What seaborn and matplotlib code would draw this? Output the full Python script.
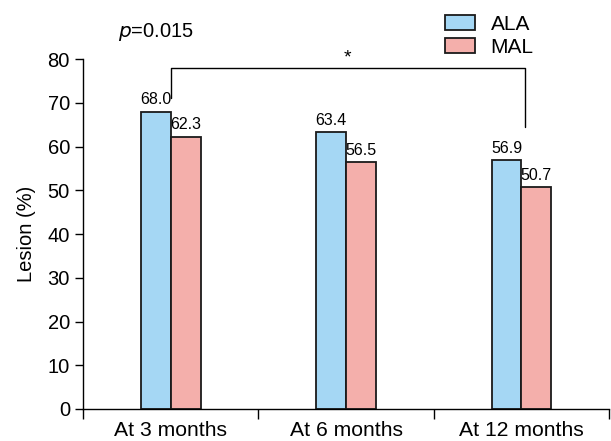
import matplotlib
matplotlib.use("Agg")
import matplotlib.pyplot as plt
import seaborn as sns
import pandas as pd

# Chart data
timepoints = ["At 3 months", "At 6 months", "At 12 months"]
ala_values = [68.0, 63.4, 56.9]
mal_values = [62.3, 56.5, 50.7]
groups = ["ALA", "MAL"]
p_text = "=0.015"

df = pd.DataFrame({
    "Time": timepoints * 2,
    "Group": ["ALA"] * 3 + ["MAL"] * 3,
    "Lesion": ala_values + mal_values,
})

sns.set_style("ticks", {"axes.edgecolor": "black", "text.color": "black",
                        "axes.labelcolor": "black", "xtick.color": "black",
                        "ytick.color": "black"})
plt.rcParams["font.family"] = ["Liberation Sans", "DejaVu Sans"]

fig = plt.figure(figsize=(6.11, 4.41), dpi=100)
ax = fig.add_axes([0.136, 0.0726, 0.861, 0.7934])

palette = {"ALA": "#a5d7f4", "MAL": "#f4afab"}
sns.barplot(data=df, x="Time", y="Lesion", hue="Group", hue_order=groups,
            palette=palette, width=0.34, edgecolor="#1a1a1a", linewidth=1.3,
            saturation=1, ax=ax)

for cont in ax.containers:
    ax.bar_label(cont, fmt="%.1f", padding=3, fontsize=11.5)

ax.set_ylim(0, 80)
ax.set_xlim(-0.5, 2.5)
ax.set_yticks(range(0, 81, 10))
ax.set_xlabel("")
ax.set_ylabel("Lesion (%)", fontsize=14.5, labelpad=8)
ax.tick_params(axis="y", labelsize=14.5, length=6, width=1)
ax.tick_params(axis="x", which="major", labelsize=15.2, length=0, pad=9)
ax.set_xticks([-0.5, 0.5, 1.5, 2.5], minor=True)
ax.tick_params(axis="x", which="minor", length=7, width=1)
sns.despine(ax=ax)
for sp in ["left", "bottom"]:
    ax.spines[sp].set_linewidth(1)

# significance bracket
ax.plot([0, 0, 2.02, 2.02], [71.0, 77.9, 77.9, 64.5], color="black", lw=1, clip_on=False)
ax.text(1.01, 78.3, "*", ha="center", va="bottom", fontsize=14)

fig.text(0.193, 0.927, "$p$" + p_text, fontsize=14.5, ha="left", va="center")

ax.legend(loc="upper left", bbox_to_anchor=(0.728, 0.966),
          bbox_transform=fig.transFigure, frameon=False,
          fontsize=15, handlelength=1.45, handleheight=0.72,
          handletextpad=0.75, labelspacing=0.2,
          borderaxespad=0, borderpad=0)

fig.savefig("out.png", dpi=100)
